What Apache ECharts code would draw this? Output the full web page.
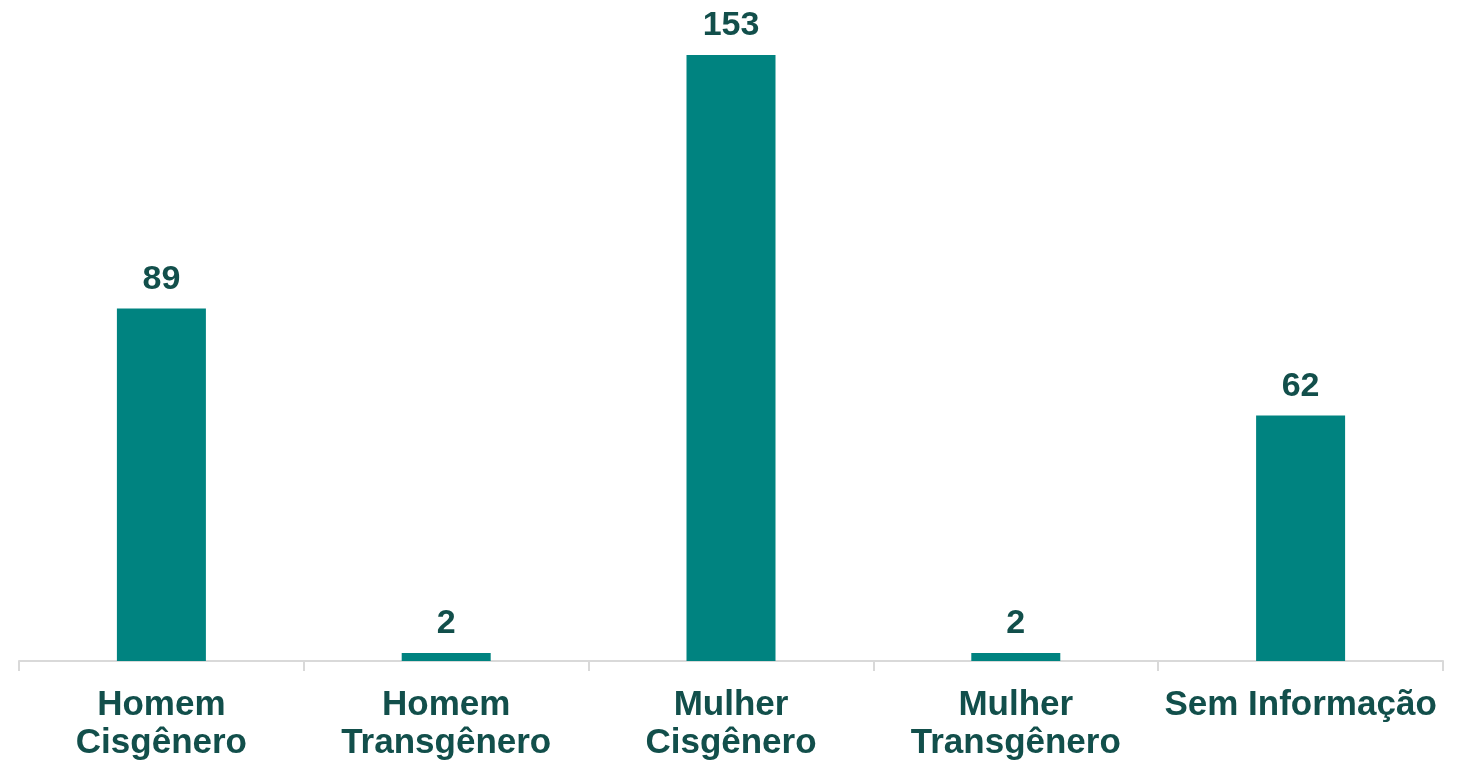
<!DOCTYPE html>
<html>
<head>
<meta charset="utf-8">
<script src="https://cdn.jsdelivr.net/npm/echarts@6/dist/echarts.min.js"></script>
<style>
  html, body { margin: 0; padding: 0; background: #fff; }
  #chart { width: 1463px; height: 767px; }
</style>
</head>
<body>
<div id="chart"></div>
<script>
var categories = ['Homem\nCisgênero', 'Homem\nTransgênero', 'Mulher\nCisgênero', 'Mulher\nTransgênero', 'Sem Informação'];
var values = [89, 2, 153, 2, 62];

var myChart = echarts.init(document.getElementById('chart'), null, { renderer: 'canvas' });

var textColor = '#124f4b';

var option = {
  animation: false,
  grid: { left: 19, right: 20, top: 55, bottom: 106 },
  xAxis: {
    type: 'category',
    data: categories,
    axisLine: { lineStyle: { color: '#d9d9d9', width: 2 } },
    axisTick: { show: true, length: 10, lineStyle: { color: '#d9d9d9', width: 2 } },
    axisLabel: {
      color: textColor,
      fontFamily: 'Liberation Sans, Arial, sans-serif',
      fontWeight: 'bold',
      fontSize: 35,
      lineHeight: 38,
      margin: 25,
      interval: 0
    }
  },
  yAxis: {
    type: 'value',
    min: 0,
    max: function (v) { return v.max; },
    show: false,
    splitLine: { show: false }
  },
  series: [{
    type: 'bar',
    data: values,
    barWidth: 89,
    itemStyle: { color: '#008380' },
    label: {
      show: true,
      position: 'top',
      distance: 12,
      color: textColor,
      fontFamily: 'Liberation Sans, Arial, sans-serif',
      fontWeight: 'bold',
      fontSize: 34
    }
  }]
};

myChart.setOption(option);
window.addEventListener('resize', myChart.resize);
</script>
</body>
</html>
